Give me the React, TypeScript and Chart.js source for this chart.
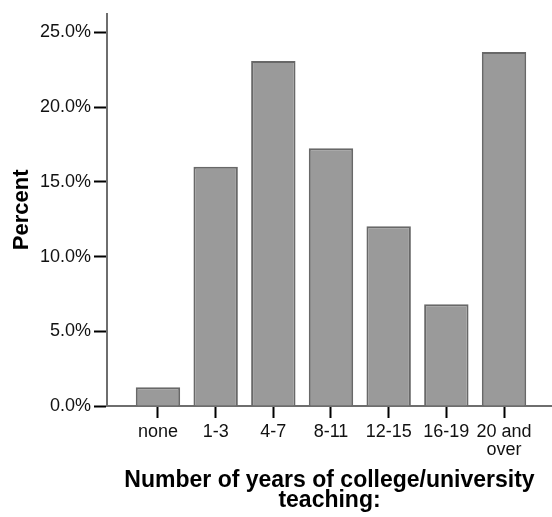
import React, { useEffect, useRef } from "react";
import { Chart, registerables } from "chart.js";

Chart.register(...registerables);

const categories: string[] = ["none", "1-3", "4-7", "8-11", "12-15", "16-19", "20 and over"];
const tickLabels: (string | string[])[] = ["none", "1-3", "4-7", "8-11", "12-15", "16-19", ["20 and", "over"]];
const percents: number[] = [1.25, 16.02, 23.09, 17.25, 12.03, 6.81, 23.7];
const yTicks: number[] = [0, 5, 10, 15, 20, 25];

const FONT = "'Liberation Sans', Arial, Helvetica, sans-serif";

export default function App() {
  const ref = useRef<HTMLCanvasElement | null>(null);
  useEffect(() => {
    if (!ref.current) return;
    const chart = new Chart(ref.current, {
      type: "bar",
      data: {
        datasets: [
          {
            label: "Percent",
            data: percents.map((v, i) => ({ x: i, y: v })),
            backgroundColor: "#9a9a9a",
            borderColor: "#686868",
            borderWidth: 2,
            barPercentage: 0.77,
            categoryPercentage: 1,
          },
        ],
      },
      options: {
        responsive: false,
        animation: false,
        layout: { padding: { top: 7, left: 0, right: 0, bottom: 0 } },
        plugins: { legend: { display: false }, tooltip: { enabled: false } },
        scales: {
          x: {
            type: "linear",
            offset: false,
            min: -0.884,
            max: 6.832,
            afterFit: (s: any) => {
              s.height = 111;
            },
            afterBuildTicks: (s: any) => {
              s.ticks = categories.map((_, i) => ({ value: i }));
            },
            grid: {
              offset: false,
              drawOnChartArea: false,
              drawTicks: true,
              tickLength: 12,
              tickColor: "#000",
              tickWidth: 2,
            },
            border: { display: true, color: "#6e6e6e", width: 2 },
            ticks: {
              autoSkip: false,
              maxRotation: 0,
              minRotation: 0,
              padding: 5,
              color: "#111",
              font: { family: FONT, size: 18, lineHeight: 1.0 },
              callback: (v: any) => tickLabels[Math.round(Number(v))] as any,
            },
            title: {
              display: true,
              text: ["Number of years of college/university", "teaching:"],
              color: "#000",
              font: { family: FONT, size: 23, weight: "bold", lineHeight: "20px" as any },
              padding: { top: 0, bottom: 6 },
            },
          },
          y: {
            type: "linear",
            min: 0,
            max: 26.25,
            afterFit: (s: any) => {
              s.width = 107;
            },
            afterBuildTicks: (s: any) => {
              s.ticks = yTicks.map((v) => ({ value: v }));
            },
            grid: {
              drawOnChartArea: false,
              drawTicks: true,
              tickLength: 13,
              tickColor: "#000",
              tickWidth: 2,
            },
            border: { display: true, color: "#6e6e6e", width: 2 },
            ticks: {
              padding: 3,
              color: "#111",
              font: { family: FONT, size: 18 },
              callback: (v: any) => Number(v).toFixed(1) + "%",
            },
            title: {
              display: true,
              text: "Percent",
              color: "#000",
              font: { family: FONT, size: 22, weight: "bold" },
              padding: { top: 9, bottom: 0 },
            },
          },
        },
      },
    });
    return () => chart.destroy();
  }, []);
  return (
    <div style={{ position: "absolute", left: 0, top: 0, width: 552, height: 517, background: "#fff" }}>
      <canvas ref={ref} width={552} height={517} style={{ display: "block" }} />
    </div>
  );
}
